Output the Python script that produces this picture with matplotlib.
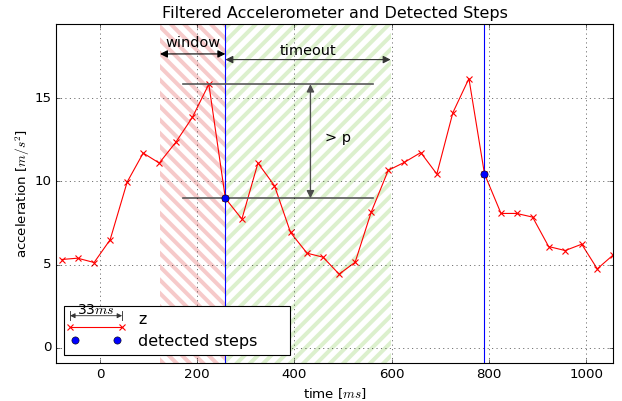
import matplotlib
matplotlib.use("Agg")
import matplotlib.pyplot as plt
import numpy as np
from matplotlib.lines import Line2D
from matplotlib.patches import FancyArrowPatch
from matplotlib.text import Text
from matplotlib.legend_handler import HandlerBase

plt.style.use('classic')
plt.rcParams['figure.facecolor'] = 'white'
plt.rcParams['savefig.facecolor'] = 'white'
plt.rcParams['hatch.linewidth'] = 3.6

# ---- data ----
t = [-79, -46, -12, 21, 56, 89, 122, 156, 190, 224, 258, 292, 325, 359, 392,
     426, 459, 492, 525, 558, 593, 626, 660, 693, 726, 759, 791, 825, 857,
     890, 923, 957, 991, 1023, 1056]
z = [5.3, 5.38, 5.12, 6.49, 9.96, 11.7, 11.1, 12.35, 13.84, 15.84, 8.98,
     7.73, 11.1, 9.74, 6.93, 5.68, 5.44, 4.42, 5.14, 8.15, 10.66, 11.14,
     11.73, 10.44, 14.13, 16.18, 10.45, 8.07, 8.07, 7.85, 6.08, 5.84, 6.22,
     4.74, 5.58]
step_t = [258, 791]
step_z = [8.98, 10.45]
window_start = 123.5
timeout_end = 598
peak_val = 15.84
x_ticks = [0, 200, 400, 600, 800, 1000]
y_ticks = [0, 5, 10, 15]

fig = plt.figure(figsize=(622/80, 401/80), dpi=80)
ax = fig.add_axes([55.7/622, 1-363.3/401, 557.6/622, 339.3/401])

ax.axvspan(window_start, step_t[0], facecolor='none', edgecolor='#f6caca',
           hatch='\\\\', lw=0)
ax.axvspan(step_t[0], timeout_end, facecolor='none', edgecolor='#dcf0cd',
           hatch='//', lw=0)

for st in step_t:
    ax.axvline(st, color='b', lw=1)

lz, = ax.plot(t, z, 'r-x', lw=1, ms=6, mew=1, label='z')
ld, = ax.plot(step_t, step_z, 'o', color='b', mec='k', mew=0.5, ms=6.5,
              label='detected steps', zorder=5)

# threshold lines
ax.plot([171, 561], [peak_val, peak_val], color='0.35', lw=1.5)
ax.plot([171, 561], [step_z[0], step_z[0]], color='0.35', lw=1.5)
ax.annotate('', xy=(433, peak_val), xytext=(433, step_z[0]),
            arrowprops=dict(arrowstyle='<|-|>', color='0.3', lw=1.2,
                            shrinkA=0, shrinkB=0, mutation_scale=14))
ax.text(490, 12.58, '> p', fontsize=13, ha='center', va='center')

# window / timeout arrows
ax.annotate('', xy=(window_start, 17.66), xytext=(step_t[0], 17.66),
            arrowprops=dict(arrowstyle='<|-|>', color='k', lw=1,
                            shrinkA=0, shrinkB=0, mutation_scale=14))
ax.text((window_start + step_t[0]) / 2, 18.3, 'window', fontsize=13,
        ha='center', va='center')
ax.annotate('', xy=(step_t[0], 17.32), xytext=(timeout_end, 17.32),
            arrowprops=dict(arrowstyle='<|-|>', color='0.2', lw=1,
                            shrinkA=0, shrinkB=0, mutation_scale=14))
ax.text(428, 17.86, 'timeout', fontsize=13, ha='center', va='center')

ax.set_xlim(-91, 1056)
ax.set_ylim(-0.94, 19.46)
ax.set_xticks(x_ticks)
ax.set_yticks(y_ticks)
ax.grid(True)
ax.set_title('Filtered Accelerometer and Detected Steps', fontsize=14.4)
ax.set_xlabel('time [$ms$]')
ax.set_ylabel('acceleration [$m/s^2$]', labelpad=2)


class HandlerZ(HandlerBase):
    def create_artists(self, legend, orig_handle, xdescent, ydescent,
                       width, height, fontsize, trans):
        yc = (height - ydescent) / 2.0
        x0, x1 = -xdescent, width - xdescent
        yl = yc - 0.5 * fontsize
        line = Line2D([x0, x1], [yl, yl], color='r', marker='x', lw=1,
                      ms=6, mew=1)
        line.set_transform(trans)
        ya = yc + 0.2 * fontsize
        arr = FancyArrowPatch((x0, ya), (x1, ya), arrowstyle='<|-|>',
                              mutation_scale=9, color='0.2', lw=0.8,
                              shrinkA=0, shrinkB=0, transform=trans)
        b1 = Line2D([x0, x0], [ya - 0.28*fontsize, ya + 0.28*fontsize],
                    color='0.2', lw=0.8)
        b1.set_transform(trans)
        b2 = Line2D([x1, x1], [ya - 0.28*fontsize, ya + 0.28*fontsize],
                    color='0.2', lw=0.8)
        b2.set_transform(trans)
        txt = Text((x0 + x1) / 2.0, ya - 0.05*fontsize, '33$ms$', ha='center',
                   va='bottom', fontsize=12.5)
        txt.set_transform(trans)
        return [line, arr, b1, b2, txt]


leg = ax.legend([lz, ld], ['z', 'detected steps     '], loc='lower left',
                handler_map={lz: HandlerZ()}, handlelength=3.25,
                handletextpad=1.0, labelspacing=0.4, numpoints=2,
                fontsize=14.4)

fig.savefig('out.png', dpi=80)
